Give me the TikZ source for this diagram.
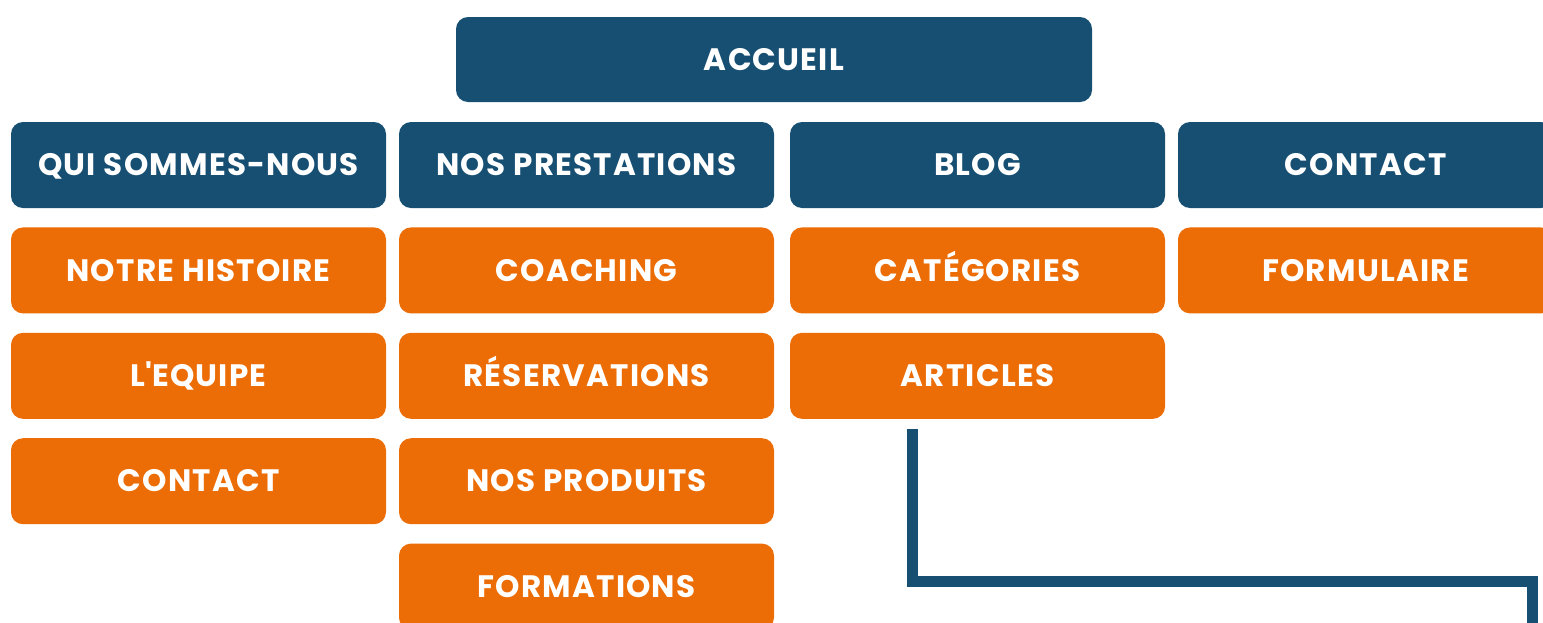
\documentclass[tikz,border=0pt]{standalone}
\usepackage{fontspec}
\setmainfont{Poppins}[LetterSpace=4]
\usetikzlibrary{positioning}
\definecolor{navy}{RGB}{23,79,115}
\definecolor{carrot}{RGB}{236,108,5}

\begin{document}
\begin{tikzpicture}[x=1pt,y=-1pt]
	        \tikzstyle{page}=[rounded corners=12pt,minimum width=375pt,minimum height=86pt,inner sep=0pt,text=white,font=\fontsize{31}{33}\selectfont\bfseries,text height=21.5pt,text depth=0pt]
	    	\tikzstyle{menu}=[page,fill=navy]
	    	\tikzstyle{sub}=[page,fill=carrot]
	    	\tikzstyle{link}=[line width=11pt,draw=navy]

	    	\useasboundingbox (0,0) rectangle (1543,622);
	    	\clip (0,0) rectangle (1543,622);

	    	\node[menu,minimum width=636pt,minimum height=85pt] (accueil) at (774,59.5) {ACCUEIL};

	    	\node[menu] (qui) at (198.5,165) {QUI SOMMES-NOUS};
	    	\node[menu] (prestations) at (586.5,165) {NOS PRESTATIONS};
	    	\node[menu] (blog) at (977.5,165) {BLOG};
	    	\node[menu] (contact) at (1365.5,165) {CONTACT};

	    	\node[sub,below=19pt of qui] (histoire) {NOTRE HISTOIRE};
	    	\node[sub,below=19pt of histoire] (equipe) {L\textquotesingle EQUIPE};
	    	\node[sub,below=19pt of equipe] (contactqui) {CONTACT};

	    	\node[sub,below=19pt of prestations] (coaching) {COACHING};
	    	\node[sub,below=19pt of coaching] (reservations) {RÉSERVATIONS};
	    	\node[sub,below=19pt of reservations] (produits) {NOS PRODUITS};
	    	\node[sub,below=19pt of produits] (formations) {FORMATIONS};

	    	\node[sub,below=19pt of blog] (categories) {CATÉGORIES};
	    	\node[sub,below=19pt of categories] (articles) {ARTICLES};

	    	\node[sub,below=19pt of contact] (formulaire) {FORMULAIRE};

	    	\coordinate (drop) at (912.5,429);
	    	\coordinate (edge) at (1532.5,581);
	    	\coordinate (exit) at (1532.5,640);
	    	\draw[link] (drop) |- (edge) -- (exit);
	    \end{tikzpicture}
\end{document}
